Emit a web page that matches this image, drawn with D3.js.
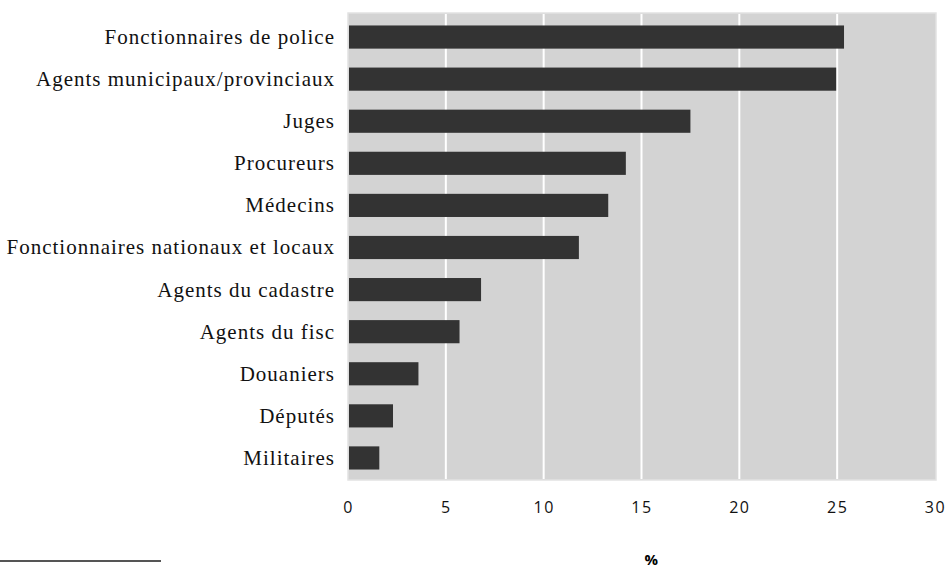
<!DOCTYPE html>
<html>
<head>
<meta charset="utf-8">
<script src="https://cdn.jsdelivr.net/npm/d3@7"></script>
<style>
  body { margin: 0; background: #fff; }
  .cat text { font-family: "Liberation Serif", "Times New Roman", serif; font-size: 21px; fill: #111; letter-spacing: 1px; }
  .xaxis text { font-family: "Open Sans", sans-serif; font-size: 16px; fill: #111; letter-spacing: 1.5px; }
</style>
</head>
<body>
<svg id="chart" width="946" height="569"></svg>
<script>
const categories = ["Fonctionnaires de police", "Agents municipaux/provinciaux", "Juges", "Procureurs",
                    "Médecins", "Fonctionnaires nationaux et locaux", "Agents du cadastre", "Agents du fisc",
                    "Douaniers", "Députés", "Militaires"];
const values = [25.35, 24.95, 17.5, 14.2, 13.3, 11.8, 6.8, 5.7, 3.6, 2.3, 1.6];
const xTicks = [0, 5, 10, 15, 20, 25, 30];
const axisTitle = "%";

const margin = { left: 348, right: 11, top: 13, bottom: 89 };
const svg = d3.select("#chart");
const width = +svg.attr("width") - margin.left - margin.right;
const height = +svg.attr("height") - margin.top - margin.bottom;

const x = d3.scaleLinear().domain([0, 30]).range([0, width]);
const y = d3.scaleBand().domain(categories).range([3, height - 1])
  .paddingInner(0.45).paddingOuter(0.225);

const g = svg.append("g").attr("transform", `translate(${margin.left},${margin.top})`);

// plot background
g.append("rect")
  .attr("x", 0).attr("y", 0)
  .attr("width", width + 1).attr("height", height)
  .style("fill", "#d3d3d3")
  .style("stroke", "#e2e2e2")
  .style("stroke-width", 1.5);

// vertical gridlines
g.selectAll(".grid")
  .data(xTicks.slice(1, -1))
  .enter().append("line")
  .attr("x1", d => x(d)).attr("x2", d => x(d))
  .attr("y1", 1).attr("y2", height - 1)
  .style("stroke", "#fff").style("stroke-width", 2);

// bars
g.selectAll(".bar")
  .data(values)
  .enter().append("rect")
  .attr("x", 1)
  .attr("y", (d, i) => y(categories[i]))
  .attr("width", d => x(d) - 1)
  .attr("height", y.bandwidth())
  .style("fill", "#333333");

// category labels
const cat = g.append("g").attr("class", "cat");
cat.selectAll("text")
  .data(categories)
  .enter().append("text")
  .attr("x", -13)
  .attr("y", d => y(d) + y.bandwidth() / 2)
  .attr("dy", "0.33em")
  .attr("text-anchor", "end")
  .text(d => d);

// x axis
const xAxis = d3.axisBottom(x).tickValues(xTicks).tickSize(0).tickPadding(22);
g.append("g")
  .attr("class", "xaxis")
  .attr("transform", `translate(0,${height})`)
  .call(xAxis)
  .call(a => a.select(".domain").remove());

g.append("text")
  .attr("x", x(15.5))
  .attr("y", height + 85)
  .attr("text-anchor", "middle")
  .style("font-family", "'Open Sans', sans-serif")
  .style("font-size", "15px")
  .style("font-weight", "bold")
  .text(axisTitle);

// footnote rule
svg.append("line")
  .attr("x1", 0).attr("x2", 161)
  .attr("y1", 561).attr("y2", 561)
  .style("stroke", "#555").style("stroke-width", 1.8);
</script>
</body>
</html>
